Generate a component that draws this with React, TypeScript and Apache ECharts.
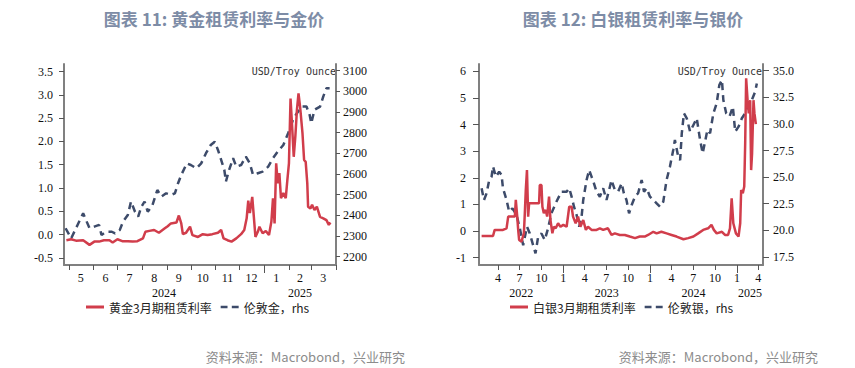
import React, { useEffect, useRef } from 'react';
import * as echarts from 'echarts';

const goldTitle = '图表 11: 黄金租赁利率与金价';
const silverTitle = '图表 12: 白银租赁利率与银价';
const sourceText = '资料来源：Macrobond，兴业研究';
const unitText = 'USD/Troy Ounce';
const goldLeaseName = '黄金3月期租赁利率';
const goldPriceName = '伦敦金，rhs';
const silverLeaseName = '白银3月期租赁利率';
const silverPriceName = '伦敦银，rhs';

const goldPriceDates = [
  '2024-04-27', '2024-05-04', '2024-05-12', '2024-05-19', '2024-05-27', '2024-06-02', '2024-06-08', '2024-06-11',
  '2024-06-17', '2024-06-24', '2024-06-28', '2024-07-04', '2024-07-08', '2024-07-14', '2024-07-18', '2024-07-23',
  '2024-07-27', '2024-07-31', '2024-08-04', '2024-08-08', '2024-08-14', '2024-08-20', '2024-08-25', '2024-08-31',
  '2024-09-06', '2024-09-11', '2024-09-15', '2024-09-19', '2024-09-26', '2024-10-01', '2024-10-08', '2024-10-14',
  '2024-10-20', '2024-10-26', '2024-10-31', '2024-11-04', '2024-11-08', '2024-11-12', '2024-11-14', '2024-11-18',
  '2024-11-23', '2024-11-27', '2024-12-03', '2024-12-09', '2024-12-14', '2024-12-18', '2024-12-24', '2024-12-30',
  '2025-01-06', '2025-01-12', '2025-01-18', '2025-01-25', '2025-01-31', '2025-02-06', '2025-02-11', '2025-02-17',
  '2025-02-23', '2025-02-27', '2025-03-01', '2025-03-05', '2025-03-12', '2025-03-16', '2025-03-20', '2025-03-24',
];
const goldPrice = [
  2337, 2288, 2353, 2409, 2337, 2345, 2353, 2304,
  2320, 2320, 2312, 2329, 2369, 2401, 2466, 2417,
  2393, 2441, 2466, 2417, 2450, 2522, 2490, 2506,
  2498, 2506, 2555, 2595, 2651, 2643, 2627, 2651,
  2700, 2740, 2756, 2716, 2668, 2619, 2563, 2619,
  2676, 2635, 2643, 2684, 2651, 2595, 2603, 2611,
  2635, 2676, 2708, 2740, 2797, 2861, 2894, 2926,
  2926, 2885, 2845, 2910, 2926, 2974, 3015, 3015,
];

const goldLeaseDates = [
  '2024-04-28', '2024-05-04', '2024-05-10', '2024-05-19', '2024-05-27', '2024-06-02', '2024-06-08', '2024-06-14',
  '2024-06-21', '2024-06-25', '2024-07-01', '2024-07-07', '2024-07-14', '2024-07-20', '2024-07-26', '2024-08-02',
  '2024-08-05', '2024-08-10', '2024-08-16', '2024-08-22', '2024-08-29', '2024-09-02', '2024-09-06', '2024-09-13',
  '2024-09-16', '2024-09-19', '2024-09-21', '2024-09-25', '2024-09-30', '2024-10-03', '2024-10-10', '2024-10-16',
  '2024-10-22', '2024-10-28', '2024-11-04', '2024-11-08', '2024-11-11', '2024-11-16', '2024-11-21', '2024-11-27',
  '2024-12-03', '2024-12-07', '2024-12-10', '2024-12-12', '2024-12-14', '2024-12-17', '2024-12-19', '2024-12-21',
  '2024-12-24', '2024-12-26', '2024-12-30', '2025-01-03', '2025-01-07', '2025-01-10', '2025-01-12', '2025-01-14',
  '2025-01-16', '2025-01-18', '2025-01-20', '2025-01-22', '2025-01-25', '2025-01-28', '2025-01-30', '2025-02-01',
  '2025-02-03', '2025-02-05', '2025-02-07', '2025-02-09', '2025-02-11', '2025-02-13', '2025-02-15', '2025-02-18',
  '2025-02-20', '2025-02-22', '2025-02-24', '2025-02-25', '2025-02-28', '2025-03-02', '2025-03-05', '2025-03-08',
  '2025-03-12', '2025-03-16', '2025-03-20', '2025-03-23', '2025-03-25',
];
const goldLease = [
  -0.12, -0.10, -0.13, -0.12, -0.22, -0.15, -0.15, -0.12,
  -0.12, -0.17, -0.10, -0.14, -0.14, -0.15, -0.14, -0.08,
  0.06, 0.08, 0.10, 0.04, 0.13, 0.18, 0.24, 0.26,
  0.41, 0.24, 0.01, 0.04, 0.17, -0.01, -0.05, 0.01,
  -0.01, 0.01, 0.04, 0.10, -0.08, -0.12, -0.15, -0.08,
  0.01, 0.10, 0.35, 0.73, 0.46, 0.81, 0.38, -0.05,
  0.06, 0.17, 0.03, 0.08, -0.01, 0.28, 0.78, 0.24,
  1.53, 1.10, 1.32, 0.78, 0.89, 0.78, 1.17, 1.53,
  2.92, 2.32, 1.67, 2.10, 2.67, 3.03, 2.74, 2.17,
  1.60, 1.56, 1.10, 0.60, 0.56, 0.64, 0.53, 0.60,
  0.38, 0.35, 0.31, 0.21, 0.26,
];

const silverPriceDates = [
  '2022-01-22', '2022-02-01', '2022-02-12', '2022-02-23', '2022-03-05', '2022-03-11', '2022-03-23', '2022-04-06',
  '2022-04-16', '2022-04-22', '2022-05-07', '2022-05-18', '2022-06-01', '2022-06-18', '2022-07-02', '2022-07-16',
  '2022-08-01', '2022-08-13', '2022-08-27', '2022-09-06', '2022-09-17', '2022-10-01', '2022-10-15', '2022-10-29',
  '2022-11-12', '2022-12-03', '2022-12-24', '2023-01-15', '2023-01-26', '2023-02-05', '2023-02-15', '2023-02-26',
  '2023-03-09', '2023-03-19', '2023-03-26', '2023-04-09', '2023-04-20', '2023-04-30', '2023-05-10', '2023-05-21',
  '2023-06-04', '2023-06-18', '2023-07-02', '2023-07-13', '2023-07-23', '2023-08-06', '2023-08-20', '2023-09-04',
  '2023-09-13', '2023-09-24', '2023-10-05', '2023-10-16', '2023-10-30', '2023-11-12', '2023-11-27', '2023-12-07',
  '2023-12-18', '2024-01-01', '2024-01-15', '2024-01-29', '2024-02-12', '2024-02-26', '2024-03-11', '2024-03-25',
  '2024-04-08', '2024-04-15', '2024-04-29', '2024-05-07', '2024-05-14', '2024-05-23', '2024-06-04', '2024-06-18',
  '2024-07-02', '2024-07-16', '2024-07-30', '2024-08-10', '2024-08-20', '2024-08-30', '2024-09-10', '2024-09-24',
  '2024-10-08', '2024-10-19', '2024-10-30', '2024-11-05', '2024-11-17', '2024-12-01', '2024-12-15', '2024-12-25',
  '2025-01-08', '2025-01-22', '2025-02-05', '2025-02-19', '2025-03-05', '2025-03-19', '2025-03-26',
];
const silverPrice = [
  23.95, 22.85, 23.48, 24.73, 25.04, 26.0, 25.04, 25.5,
  25.2, 23.95, 22.85, 21.75, 22.07, 21.44, 20.19, 18.6,
  20.34, 19.7, 18.6, 17.84, 19.4, 19.7, 19.09, 20.19,
  21.6, 22.69, 23.63, 23.63, 23.95, 23.16, 22.22, 21.44,
  20.34, 21.28, 22.85, 24.73, 25.67, 25.04, 24.42, 23.63,
  23.16, 23.95, 22.85, 23.79, 24.73, 23.79, 23.63, 24.42,
  23.48, 22.85, 21.6, 22.38, 23.16, 23.48, 24.73, 23.63,
  23.95, 23.16, 22.85, 22.54, 22.22, 22.69, 24.73, 25.98,
  27.55, 28.49, 26.92, 26.6, 29.12, 31.0, 30.53, 29.27,
  29.9, 30.53, 28.49, 27.24, 28.33, 29.43, 29.12, 31.0,
  31.94, 33.65, 34.13, 32.25, 31.0, 30.68, 31.62, 29.27,
  29.74, 30.53, 31.0, 31.94, 32.25, 33.03, 33.8,
];

const silverLeaseDates = [
  '2022-01-22', '2022-03-11', '2022-03-18', '2022-04-22', '2022-05-07', '2022-05-14', '2022-06-11', '2022-06-15',
  '2022-06-21', '2022-06-25', '2022-06-29', '2022-07-09', '2022-07-19', '2022-07-23', '2022-07-27', '2022-08-01',
  '2022-08-06', '2022-08-10', '2022-09-21', '2022-09-24', '2022-10-01', '2022-10-05', '2022-10-11', '2022-10-19',
  '2022-10-25', '2022-11-02', '2022-11-08', '2022-11-16', '2022-11-22', '2022-11-30', '2022-12-10', '2022-12-20',
  '2023-01-01', '2023-01-15', '2023-01-26', '2023-02-05', '2023-02-11', '2023-02-22', '2023-03-04', '2023-03-14',
  '2023-03-26', '2023-04-06', '2023-04-15', '2023-04-30', '2023-05-21', '2023-06-04', '2023-06-18', '2023-07-08',
  '2023-07-23', '2023-08-06', '2023-08-27', '2023-09-17', '2023-10-08', '2023-10-30', '2023-11-19', '2023-12-10',
  '2023-12-24', '2024-01-15', '2024-01-29', '2024-02-18', '2024-03-11', '2024-04-01', '2024-04-22', '2024-05-21',
  '2024-06-10', '2024-07-02', '2024-07-22', '2024-08-12', '2024-09-02', '2024-09-16', '2024-09-26', '2024-10-08',
  '2024-10-30', '2024-11-12', '2024-11-25', '2024-12-03', '2024-12-10', '2024-12-17', '2024-12-28', '2025-01-08',
  '2025-01-15', '2025-01-19', '2025-01-26', '2025-02-01', '2025-02-05', '2025-02-09', '2025-02-15', '2025-02-20',
  '2025-02-26', '2025-03-02', '2025-03-06', '2025-03-12', '2025-03-16', '2025-03-22',
];
const silverLease = [
  -0.19, -0.19, 0.04, 0.04, 0.10, 0.54, 0.54, 1.17,
  0.54, 0.04, -0.34, -0.40, -0.09, 0.67, 1.54, 2.29,
  0.54, 1.04, 1.04, 1.73, 1.73, 0.91, 0.67, 0.79,
  0.54, 1.29, 0.41, -0.09, 0.16, 0.10, 0.29, 0.16,
  0.23, 0.16, 0.91, 0.91, 0.54, 0.29, 0.54, 0.16,
  0.41, 0.04, 0.16, 0.04, 0.04, 0.10, 0.04, 0.10,
  -0.15, -0.09, -0.15, -0.15, -0.21, -0.27, -0.21, -0.21,
  -0.15, -0.03, -0.09, -0.03, -0.09, -0.15, -0.21, -0.31,
  -0.27, -0.21, -0.09, 0.04, 0.10, 0.23, 0.04, -0.09,
  -0.03, -0.15, -0.15, 0.10, 1.23, 0.29, -0.09, -0.21,
  0.29, 1.54, 1.42, 1.67, 3.30, 5.74, 4.92, 4.42,
  4.92, 2.29, 2.92, 4.92, 4.42, 4.02,
];

const goldLeftTicks = [-0.5, 0, 0.5, 1, 1.5, 2, 2.5, 3, 3.5];
const goldRightTicks = [2200, 2300, 2400, 2500, 2600, 2700, 2800, 2900, 3000, 3100];
const silverLeftTicks = [-1, 0, 1, 2, 3, 4, 5, 6];
const silverRightTicks = [17.5, 20, 22.5, 25, 27.5, 30, 32.5, 35];
const goldMonthStarts = [
  '2024-05-01', '2024-06-01', '2024-07-01', '2024-08-01', '2024-09-01', '2024-10-01',
  '2024-11-01', '2024-12-01', '2025-01-01', '2025-02-01', '2025-03-01', '2025-04-01',
];
const goldMonthMids = [
  '2024-05-16', '2024-06-16', '2024-07-16', '2024-08-16', '2024-09-16', '2024-10-16',
  '2024-11-16', '2024-12-16', '2025-01-16', '2025-02-15', '2025-03-16',
];
const silverQuarterStarts = [
  '2022-04-01', '2022-07-01', '2022-10-01', '2023-01-01', '2023-04-01', '2023-07-01', '2023-10-01',
  '2024-01-01', '2024-04-01', '2024-07-01', '2024-10-01', '2025-01-01', '2025-04-01',
];
const goldYearStarts = ['2025-01-01'];
const silverYearStarts = ['2023-01-01', '2024-01-01', '2025-01-01'];
const goldYears = [2024, 2025];
const silverYears = [2022, 2023, 2024, 2025];
const goldRange = ['2024-04-25', '2025-04-01'];
const silverRange = ['2022-01-11', '2025-04-21'];

const ts = (d: string) => Date.parse(d + 'T00:00:00Z');
const zip = (dates: string[], vals: number[]) => dates.map((d, i) => [ts(d), vals[i]]);
const yearCenters = (years: number[], range: string[]) => {
  const lo = ts(range[0]);
  const hi = ts(range[1]);
  return years.map((y) => {
    const a = Math.max(lo, Date.UTC(y, 0, 1));
    const b = Math.min(hi, Date.UTC(y + 1, 0, 1));
    return (a + b) / 2;
  });
};

const RED = '#D13D4B';
const NAVY = '#3D4B6A';
const AXIS_GREY = '#808080';
const TICK_COLOR = '#555';
const serif = 'Liberation Serif';
const cjk = 'Noto Sans CJK SC';
const SOLID_ICON = 'path://M0,0H18V3H0Z';
const DASH_ICON = 'path://M0,0H8V3H0Z M13,0H21V3H13Z';

const labelBase = { fontFamily: serif, fontSize: 12, color: '#111' };

function yAxisDef(gridIndex: number, position: string, min: number, max: number, ticks: number[], digits: number, margin: number, tickLen: number) {
  return {
    type: 'value',
    gridIndex,
    position,
    min,
    max,
    splitLine: { show: false },
    axisLine: { show: true, onZero: false, lineStyle: { color: AXIS_GREY, width: 2 } },
    axisTick: { show: true, length: tickLen, customValues: ticks, lineStyle: { color: TICK_COLOR, width: 1 } },
    axisLabel: {
      ...labelBase,
      margin,
      customValues: ticks,
      formatter: (v: number) => (digits > 0 ? v.toFixed(digits) : String(Math.round(v))),
    },
  };
}

function monthAxis(gridIndex: number, range: string[], tickDates: string[], labelDates: string[]) {
  return {
    type: 'value',
    gridIndex,
    position: 'bottom',
    min: ts(range[0]),
    max: ts(range[1]),
    splitLine: { show: false },
    axisLine: { show: true, onZero: false, lineStyle: { color: AXIS_GREY, width: 2 } },
    axisTick: { show: true, length: 5, customValues: tickDates.map(ts), lineStyle: { color: TICK_COLOR, width: 1 } },
    axisLabel: {
      ...labelBase,
      margin: 7,
      customValues: labelDates.map(ts),
      formatter: (v: number) => String(new Date(v).getUTCMonth() + 1),
    },
  };
}

function yearTickAxis(gridIndex: number, range: string[], tickDates: string[]) {
  return {
    type: 'value',
    gridIndex,
    position: 'bottom',
    min: ts(range[0]),
    max: ts(range[1]),
    splitLine: { show: false },
    axisLine: { show: false, onZero: false },
    axisTick: { show: true, length: 8, customValues: tickDates.map(ts), lineStyle: { color: TICK_COLOR, width: 1 } },
    axisLabel: { show: false },
  };
}

function yearAxis(gridIndex: number, range: string[], years: number[]) {
  return {
    type: 'value',
    gridIndex,
    position: 'bottom',
    offset: 15,
    min: ts(range[0]),
    max: ts(range[1]),
    splitLine: { show: false },
    axisLine: { show: false, onZero: false },
    axisTick: { show: false },
    axisLabel: {
      ...labelBase,
      margin: 7,
      customValues: yearCenters(years, range),
      formatter: (v: number) => String(new Date(v).getUTCFullYear()),
    },
  };
}

function legendDef(left: number, names: string[]) {
  return {
    data: [
      { name: names[0], icon: SOLID_ICON },
      { name: names[1], icon: DASH_ICON },
    ],
    left,
    top: 301,
    padding: 0,
    itemWidth: 18,
    itemHeight: 12,
    itemGap: 9,
    symbolKeepAspect: true,
    itemStyle: { borderWidth: 0 },
    textStyle: { fontFamily: cjk, fontSize: 12, color: '#222' },
  };
}

function textEl(text: string, x: number, y: number, font: string, fill: string, align: string) {
  return {
    type: 'text',
    x,
    y,
    style: { text, font, fill, textAlign: align, textVerticalAlign: 'middle' },
  };
}

export default function App() {
  const ref = useRef<HTMLDivElement>(null);
  useEffect(() => {
    if (!ref.current) return;
    const chart = echarts.init(ref.current, undefined, { renderer: 'svg' });
    const option: any = {
      animation: false,
      backgroundColor: '#ffffff',
      grid: [
        { left: 64, top: 64, width: 272, height: 201, containLabel: false, outerBoundsMode: 'none' },
        { left: 479, top: 64, width: 284, height: 201, containLabel: false, outerBoundsMode: 'none' },
      ],
      xAxis: [
        monthAxis(0, goldRange, goldMonthStarts, goldMonthMids),
        yearAxis(0, goldRange, goldYears),
        monthAxis(1, silverRange, silverQuarterStarts, silverQuarterStarts),
        yearAxis(1, silverRange, silverYears),
        yearTickAxis(0, goldRange, goldYearStarts),
        yearTickAxis(1, silverRange, silverYearStarts),
      ],
      yAxis: [
        yAxisDef(0, 'left', -0.652, 3.661, goldLeftTicks, 1, 11, 5),
        yAxisDef(0, 'right', 2159, 3132, goldRightTicks, 0, 7, 4),
        yAxisDef(1, 'left', -1.28, 6.28, silverLeftTicks, 0, 13, 6),
        yAxisDef(1, 'right', 16.74, 35.63, silverRightTicks, 1, 10, 6),
      ],
      legend: [
        legendDef(86, [goldLeaseName, goldPriceName]),
        legendDef(510, [silverLeaseName, silverPriceName]),
      ],
      series: [
        {
          name: goldPriceName, type: 'line', xAxisIndex: 0, yAxisIndex: 1, symbol: 'none',
          data: zip(goldPriceDates, goldPrice),
          lineStyle: { color: NAVY, width: 2.5, type: [7, 5] }, itemStyle: { color: NAVY },
        },
        {
          name: goldLeaseName, type: 'line', xAxisIndex: 0, yAxisIndex: 0, symbol: 'none',
          data: zip(goldLeaseDates, goldLease),
          lineStyle: { color: RED, width: 2.5 }, itemStyle: { color: RED },
        },
        {
          name: silverPriceName, type: 'line', xAxisIndex: 2, yAxisIndex: 3, symbol: 'none',
          data: zip(silverPriceDates, silverPrice),
          lineStyle: { color: NAVY, width: 2.5, type: [7, 5] }, itemStyle: { color: NAVY },
        },
        {
          name: silverLeaseName, type: 'line', xAxisIndex: 2, yAxisIndex: 2, symbol: 'none',
          data: zip(silverLeaseDates, silverLease),
          lineStyle: { color: RED, width: 2.5 }, itemStyle: { color: RED },
        },
      ],
      graphic: [
        textEl(goldTitle, 214, 18, `bold 17px "${cjk}"`, '#7d8ca6', 'center'),
        textEl(silverTitle, 633, 18, `bold 17px "${cjk}"`, '#7d8ca6', 'center'),
        textEl(unitText, 336, 71, '10px "DejaVu Sans Mono"', '#333', 'right'),
        textEl(unitText, 762, 71, '10px "DejaVu Sans Mono"', '#333', 'right'),
        textEl(sourceText, 405, 356, `13px "${cjk}"`, '#8c8c8c', 'right'),
        textEl(sourceText, 818, 356, `13px "${cjk}"`, '#8c8c8c', 'right'),
      ],
    };
    chart.setOption(option);
    return () => chart.dispose();
  }, []);
  return (
    <div
      ref={ref}
      style={{ position: 'fixed', left: 0, top: 0, width: 855, height: 368, background: '#fff' }}
    />
  );
}
